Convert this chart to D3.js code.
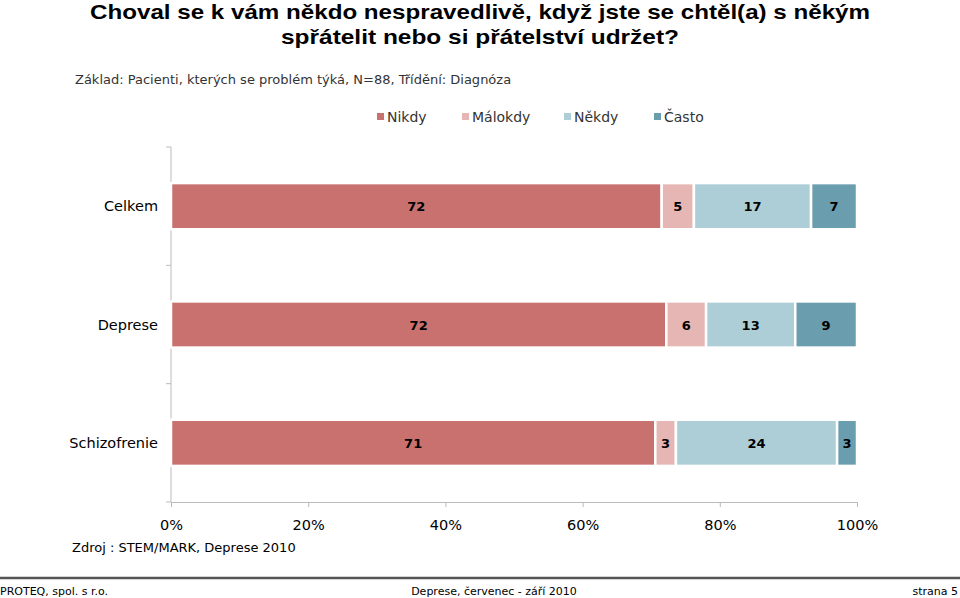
<!DOCTYPE html>
<html><head><meta charset="utf-8">
<script src="https://cdn.jsdelivr.net/npm/d3@7"></script>
<style>body{margin:0;background:#fff}svg{display:block}</style>
</head><body>
<svg id="chart" width="960" height="598"></svg>
<script>
const categories = ["Celkem", "Deprese", "Schizofrenie"];
const seriesNames = ["Nikdy", "Málokdy", "Někdy", "Často"];
const nikdy   = [71.6, 72.2, 70.6];
const malokdy = [4.7, 5.8, 3.0];
const nekdy   = [17.1, 13.0, 23.5];
const casto   = [6.7, 9.0, 2.9];
const labelNikdy   = [72, 72, 71];
const labelMalokdy = [5, 6, 3];
const labelNekdy   = [17, 13, 24];
const labelCasto   = [7, 9, 3];
const xTicks = [0, 0.2, 0.4, 0.6, 0.8, 1];
const colors = ["#C9716F", "#E5B6B3", "#AECED7", "#6A9EAF"];

const seriesVals = [nikdy, malokdy, nekdy, casto];
const seriesLabels = [labelNikdy, labelMalokdy, labelNekdy, labelCasto];
const rows = categories.map((c, i) => {
  const r = {cat: c};
  seriesNames.forEach((s, j) => r[s] = seriesVals[j][i]);
  return r;
});

const svg = d3.select("#chart");
const font = "Verdana, 'DejaVu Sans', sans-serif";

// Title
const tFont = "'Liberation Sans Narrow', 'Arial Narrow', 'Liberation Sans', sans-serif";
svg.append("text").attr("x", 480).attr("y", 19).attr("text-anchor", "middle")
  .attr("font-family", tFont).attr("font-weight", "bold").attr("font-size", 20.5)
  .attr("textLength", 780).attr("lengthAdjust", "spacingAndGlyphs")
  .text("Choval se k vám někdo nespravedlivě, když jste se chtěl(a) s někým");
svg.append("text").attr("x", 480).attr("y", 44).attr("text-anchor", "middle")
  .attr("font-family", tFont).attr("font-weight", "bold").attr("font-size", 20.5)
  .attr("textLength", 398).attr("lengthAdjust", "spacingAndGlyphs")
  .text("spřátelit nebo si přátelství udržet?");

svg.append("text").attr("x", 75).attr("y", 84).attr("font-family", font)
  .attr("font-size", 13).attr("fill", "#333")
  .text("Základ: Pacienti, kterých se problém týká, N=88, Třídění: Diagnóza");

// Legend
const legendX = [377, 462, 564, 654];
const lg = svg.append("g");
seriesNames.forEach((s, j) => {
  lg.append("rect").attr("x", legendX[j]).attr("y", 113).attr("width", 7).attr("height", 7).attr("fill", colors[j]);
  lg.append("text").attr("x", legendX[j] + 10).attr("y", 122).attr("font-family", font)
    .attr("font-size", 14).attr("fill", "#333").text(s);
});

const x = d3.scaleLinear().domain([0, 1]).range([171, 857]);
const y = d3.scaleBand().domain(categories).range([147, 502]).paddingInner(0.61).paddingOuter(0.305);

const stack = d3.stack().keys(seriesNames).offset(d3.stackOffsetExpand);
const stacked = stack(rows);

// axes
const yAxis = svg.append("g").attr("transform", "translate(171,0)");
yAxis.append("line").attr("x1", 0).attr("x2", 0).attr("y1", 147).attr("y2", 502).attr("stroke", "#bbb");
d3.range(4).forEach(i => {
  const yy = 147 + i * (355 / 3);
  yAxis.append("line").attr("x1", -5).attr("x2", 0).attr("y1", yy).attr("y2", yy).attr("stroke", "#bbb");
});
categories.forEach(c => {
  svg.append("text").attr("x", 158).attr("y", y(c) + y.bandwidth() / 2 + 5)
    .attr("text-anchor", "end").attr("font-family", font).attr("font-size", 14.5).attr("fill", "#000").text(c);
});

const xAxis = d3.axisBottom(x).tickValues(xTicks).tickFormat(d3.format(".0%")).tickSize(5).tickPadding(13);
const xg = svg.append("g").attr("transform", "translate(0,502)").call(xAxis);
xg.select(".domain").attr("stroke", "#bbb");
xg.selectAll(".tick line").attr("stroke", "#bbb");
xg.selectAll(".tick text").attr("font-family", font).attr("font-size", 14.5).attr("fill", "#000");

// bars
stacked.forEach((layer, j) => {
  const g = svg.append("g");
  g.selectAll("rect").data(layer).join("rect")
    .attr("x", d => x(d[0]))
    .attr("y", (d, i) => y(categories[i]))
    .attr("width", d => x(d[1]) - x(d[0]))
    .attr("height", y.bandwidth())
    .attr("fill", colors[j]).attr("stroke", "#fff").attr("stroke-width", 2.5);
  g.selectAll("text").data(layer).join("text")
    .attr("x", d => (x(d[0]) + x(d[1])) / 2)
    .attr("y", (d, i) => y(categories[i]) + y.bandwidth() / 2 + 5)
    .attr("text-anchor", "middle").attr("font-family", font).attr("font-weight", "bold")
    .attr("font-size", 13).attr("fill", "#000")
    .text((d, i) => seriesLabels[j][i]);
});

svg.append("text").attr("x", 72).attr("y", 552).attr("font-family", font).attr("font-size", 13)
  .attr("fill", "#000").text("Zdroj : STEM/MARK, Deprese 2010");

// footer
svg.append("line").attr("x1", 0).attr("x2", 960).attr("y1", 578).attr("y2", 578).attr("stroke", "#555").attr("stroke-width", 2.5);
svg.append("text").attr("x", 0).attr("y", 595).attr("font-family", font).attr("font-size", 11).text("PROTEQ, spol. s r.o.");
svg.append("text").attr("x", 494).attr("y", 595).attr("text-anchor", "middle").attr("font-family", font).attr("font-size", 11).text("Deprese, červenec - září 2010");
svg.append("text").attr("x", 958).attr("y", 595).attr("text-anchor", "end").attr("font-family", font).attr("font-size", 11).text("strana 5");
</script>
</body></html>
